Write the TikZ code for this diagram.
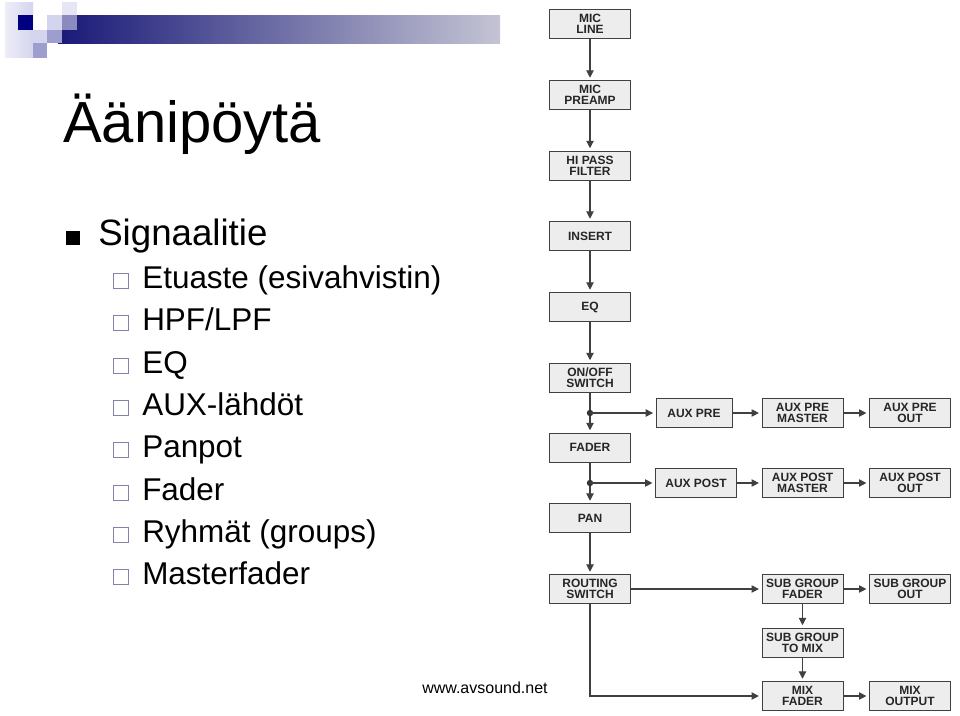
\documentclass[tikz,border=0pt]{standalone}
\usepackage{fontspec}
\setmainfont{Liberation Sans}
\usetikzlibrary{arrows.meta}
\definecolor{tumma}{RGB}{0,0,128}
\definecolor{vaalea}{RGB}{212,212,238}
\definecolor{keski}{RGB}{158,158,206}
\definecolor{harmaasini}{RGB}{130,130,170}
\begin{document}
\begin{tikzpicture}[x=0.75pt, y=-0.75pt,
    lohko/.style={draw=black!75, fill=black!7, text=black!85, minimum width=61pt, minimum height=21.5pt,
        inner sep=1pt, align=center, font=\bfseries\fontsize{9}{8.4}\selectfont},
    nuoli/.style={-{Triangle[length=5.5pt,width=5.5pt]}, black!75, line width=0.8pt, shorten >=2pt},
    viiva/.style={black!75, line width=0.8pt}]
    \useasboundingbox (0,0) rectangle (960,715);

    \shade[left color={rgb,255:red,25;green,25;blue,120}, right color={rgb,255:red,196;green,196;blue,212}] (58,15) rectangle (500,43);
    \shade[left color=vaalea!40!white, right color=vaalea] (5,2) rectangle (33,57);
    \fill[tumma] (18,15) rectangle (33,30);
    \fill[vaalea] (33,30) rectangle (47,43);
    \fill[keski] (33,43) rectangle (47,58);
    \fill[vaalea] (47,15) rectangle (62,30);
    \fill[keski] (47,30) rectangle (62,43);
    \fill[vaalea, opacity=0.6] (62,2) rectangle (77,30);

    \node[anchor=base west, inner sep=0pt, font=\fontsize{43.5}{50}\selectfont] (otsikko) at (63,142) {Äänipöytä};

    \fill (66,231) rectangle (80,245);
    \node[anchor=base west, inner sep=0pt, font=\fontsize{27.5}{32}\selectfont] (signaali) at (98,245) {Signaalitie};
    \foreach \teksti/\y in {Etuaste (esivahvistin)/288, {HPF/LPF}/330, EQ/373, AUX-lähdöt/415,
            Panpot/457, Fader/500, Ryhmät (groups)/542, Masterfader/584}
        {
            \draw[harmaasini, fill=white, line width=0.7pt] (113,\y-14.5) rectangle (128.5,\y);
            \node[anchor=base west, inner sep=0pt, font=\fontsize{23.6}{28}\selectfont] (k\y) at (142,\y) {\teksti};
        }

    \node[anchor=base west, inner sep=0pt, font=\fontsize{12}{14}\selectfont] (lahde) at (422,693) {www.avsound.net};

    \node[lohko] (micline) at (590,24) {MIC\\LINE};
    \node[lohko] (micpreamp) at (590,95) {MIC\\PREAMP};
    \node[lohko] (hipass) at (590,165.5) {HI PASS\\FILTER};
    \node[lohko] (insert) at (590,236) {INSERT};
    \node[lohko] (eq) at (590,307) {EQ};
    \node[lohko] (onoff) at (590,377.5) {ON/OFF\\SWITCH};
    \node[lohko] (fader) at (590,447.5) {FADER};
    \node[lohko] (pan) at (590,518) {PAN};
    \node[lohko] (routing) at (590,589) {ROUTING\\SWITCH};

    \node[lohko, minimum width=57pt] (auxpre) at (694,413) {AUX PRE};
    \node[lohko] (auxpremaster) at (802.5,413) {AUX PRE\\MASTER};
    \node[lohko] (auxpreout) at (910,413) {AUX PRE\\OUT};
    \node[lohko] (auxpost) at (696,483) {AUX POST};
    \node[lohko] (auxpostmaster) at (802.5,483) {AUX POST\\MASTER};
    \node[lohko] (auxpostout) at (910,483) {AUX POST\\OUT};

    \node[lohko] (sgfader) at (802.5,589) {SUB GROUP\\FADER};
    \node[lohko] (sgout) at (910,589) {SUB GROUP\\OUT};
    \node[lohko] (sgtomix) at (802.5,642.5) {SUB GROUP\\TO MIX};
    \node[lohko] (mixfader) at (802.5,696) {MIX\\FADER};
    \node[lohko] (mixout) at (910,696) {MIX\\OUTPUT};

    \coordinate (haara1) at (590,413);
    \coordinate (haara2) at (590,483);

    \draw[nuoli] (micline) -- (micpreamp);
    \draw[nuoli] (micpreamp) -- (hipass);
    \draw[nuoli] (hipass) -- (insert);
    \draw[nuoli] (insert) -- (eq);
    \draw[nuoli] (eq) -- (onoff);
    \draw[viiva] (onoff) -- (haara1);
    \draw[nuoli] (haara1) -- (fader);
    \draw[viiva] (fader) -- (haara2);
    \draw[nuoli] (haara2) -- (pan);
    \draw[nuoli] (pan) -- (routing);
    \fill[black!80] (haara1) circle (2.4pt);
    \fill[black!80] (haara2) circle (2.4pt);

    \draw[nuoli] (haara1) -- (auxpre);
    \draw[nuoli] (auxpre) -- (auxpremaster);
    \draw[nuoli] (auxpremaster) -- (auxpreout);
    \draw[nuoli] (haara2) -- (auxpost);
    \draw[nuoli] (auxpost) -- (auxpostmaster);
    \draw[nuoli] (auxpostmaster) -- (auxpostout);

    \draw[nuoli] (routing) -- (sgfader);
    \draw[nuoli] (routing.south) |- (mixfader.west);
    \draw[nuoli] (sgfader) -- (sgout);
    \draw[nuoli] (sgfader) -- (sgtomix);
    \draw[nuoli] (sgtomix) -- (mixfader);
    \draw[nuoli] (mixfader) -- (mixout);
\end{tikzpicture}
\end{document}
